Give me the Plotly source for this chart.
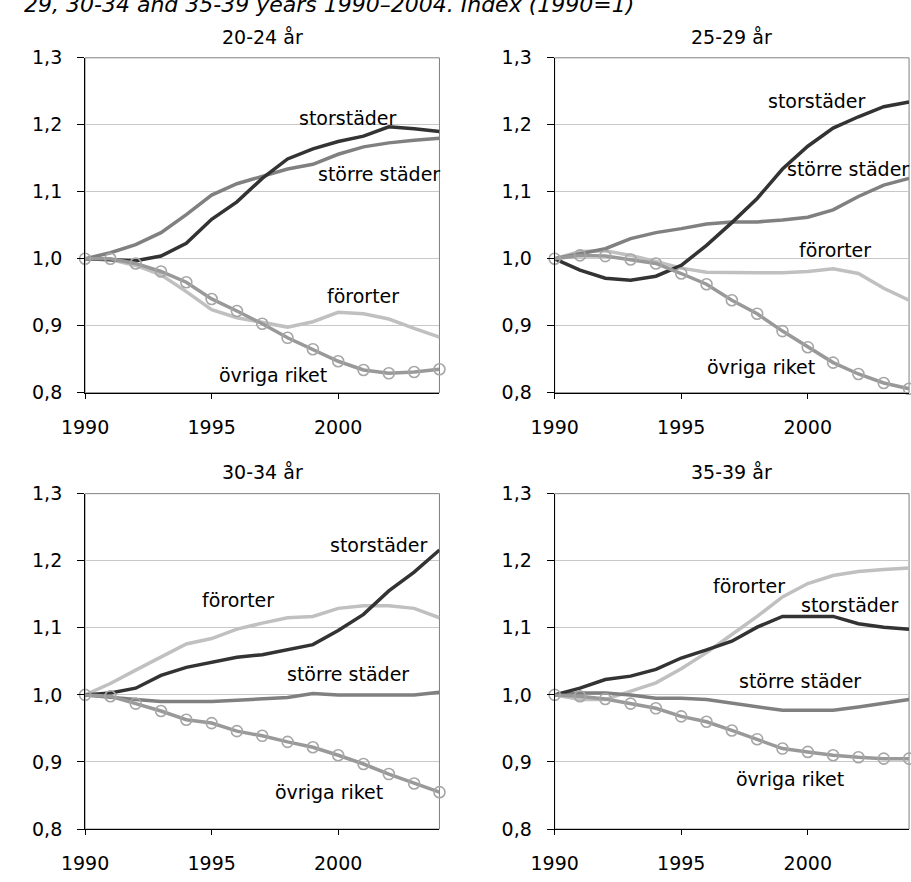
import plotly.graph_objects as go

years = list(range(1990, 2005))
series_names = ["storstäder", "större städer", "förorter", "övriga riket"]
panel_titles = ["20-24 år", "25-29 år", "30-34 år", "35-39 år"]
y_ticks = [0.8, 0.9, 1.0, 1.1, 1.2, 1.3]
x_ticks = [1990, 1995, 2000]

# Panel 20-24 år
stor_2024 = [1.0, 0.998, 0.997, 1.004, 1.023, 1.059, 1.085, 1.12, 1.149, 1.164, 1.175, 1.183, 1.197, 1.194, 1.19]
storre_2024 = [1.0, 1.009, 1.021, 1.039, 1.066, 1.095, 1.112, 1.123, 1.134, 1.141, 1.156, 1.167, 1.173, 1.177, 1.18]
fororter_2024 = [1.0, 0.999, 0.99, 0.976, 0.951, 0.924, 0.912, 0.905, 0.898, 0.906, 0.92, 0.918, 0.91, 0.896, 0.883]
ovriga_2024 = [1.0, 1.0, 0.993, 0.981, 0.965, 0.94, 0.922, 0.903, 0.882, 0.865, 0.847, 0.834, 0.829, 0.831, 0.835]

# Panel 25-29 år
stor_2529 = [1.0, 0.983, 0.971, 0.968, 0.974, 0.99, 1.02, 1.054, 1.09, 1.134, 1.168, 1.195, 1.212, 1.227, 1.234]
storre_2529 = [1.0, 1.007, 1.015, 1.03, 1.039, 1.045, 1.052, 1.055, 1.055, 1.058, 1.062, 1.073, 1.093, 1.11, 1.12]
fororter_2529 = [1.0, 1.011, 1.012, 1.005, 0.996, 0.986, 0.98, 0.979, 0.979, 0.979, 0.981, 0.985, 0.978, 0.956, 0.938]
ovriga_2529 = [1.0, 1.005, 1.004, 0.999, 0.993, 0.978, 0.962, 0.938, 0.918, 0.892, 0.868, 0.845, 0.828, 0.8145, 0.806]

# Panel 30-34 år
stor_3034 = [1.0, 1.003, 1.01, 1.029, 1.041, 1.049, 1.056, 1.06, 1.067, 1.075, 1.096, 1.12, 1.155, 1.183, 1.216]
storre_3034 = [1.0, 0.996, 0.993, 0.99, 0.99, 0.99, 0.992, 0.994, 0.996, 1.002, 1.0, 1.0, 1.0, 1.0, 1.004]
fororter_3034 = [1.0, 1.017, 1.037, 1.056, 1.076, 1.084, 1.098, 1.107, 1.115, 1.117, 1.129, 1.133, 1.133, 1.129, 1.115]
ovriga_3034 = [1.0, 0.998, 0.987, 0.976, 0.963, 0.958, 0.946, 0.939, 0.93, 0.922, 0.91, 0.897, 0.882, 0.868, 0.855]

# Panel 35-39 år
stor_3539 = [1.0, 1.01, 1.023, 1.028, 1.038, 1.055, 1.067, 1.08, 1.101, 1.117, 1.117, 1.117, 1.106, 1.101, 1.098]
storre_3539 = [1.0, 1.003, 1.003, 1.0, 0.995, 0.995, 0.993, 0.988, 0.982, 0.977, 0.977, 0.977, 0.982, 0.987, 0.993]
fororter_3539 = [1.0, 0.993, 0.993, 1.006, 1.018, 1.039, 1.063, 1.09, 1.117, 1.146, 1.166, 1.178, 1.184, 1.187, 1.189]
ovriga_3539 = [1.0, 0.998, 0.994, 0.987, 0.98, 0.968, 0.96, 0.947, 0.934, 0.92, 0.915, 0.91, 0.907, 0.905, 0.905]

panels = [
    {"stor": stor_2024, "storre": storre_2024, "fororter": fororter_2024, "ovriga": ovriga_2024},
    {"stor": stor_2529, "storre": storre_2529, "fororter": fororter_2529, "ovriga": ovriga_2529},
    {"stor": stor_3034, "storre": storre_3034, "fororter": fororter_3034, "ovriga": ovriga_3034},
    {"stor": stor_3539, "storre": storre_3539, "fororter": fororter_3539, "ovriga": ovriga_3539},
]

# label positions (data coords) per panel: (x, y) for stor, storre, fororter, ovriga
label_pos = [
    [(2000.38, 1.210), (2001.63, 1.127), (2000.97, 0.945), (1997.43, 0.8265)],
    [(2000.38, 1.236), (2001.60, 1.1345), (2001.08, 1.013), (1998.14, 0.838)],
    [(2001.63, 1.224), (2000.40, 1.031), (1996.05, 1.1416), (1999.65, 0.855)],
    [(2001.65, 1.134), (1999.69, 1.021), (1997.69, 1.162), (1999.31, 0.874)],
]

W, H = 911, 882
FONT = "DejaVu Sans"
FS = 19

x_domains = [[62.7 / W, 426.7 / W], [545 / W, 909 / W], [62.7 / W, 426.7 / W], [545 / W, 909 / W]]
y_domains = [[1 - 391.5 / H, 1 - 48 / H], [1 - 391.5 / H, 1 - 48 / H],
             [1 - 839 / H, 1 - 495 / H], [1 - 839 / H, 1 - 495 / H]]
title_y_px = [27, 27, 473, 473]

c_stor = "#333333"
c_storre = "#808080"
c_fororter = "#c0c0c0"
c_ovriga = "#999999"

fig = go.Figure()
annotations = []
shapes = []
layout_axes = {}

for i, p in enumerate(panels):
    n = "" if i == 0 else str(i + 1)
    xa, ya = "x" + n, "y" + n
    fig.add_trace(go.Scatter(x=years, y=p["fororter"], mode="lines", xaxis=xa, yaxis=ya,
                             line=dict(color=c_fororter, width=3.5), name=series_names[2], showlegend=False))
    fig.add_trace(go.Scatter(x=years, y=p["storre"], mode="lines", xaxis=xa, yaxis=ya,
                             line=dict(color=c_storre, width=3.5), name=series_names[1], showlegend=False))
    fig.add_trace(go.Scatter(x=years, y=p["stor"], mode="lines", xaxis=xa, yaxis=ya,
                             line=dict(color=c_stor, width=3.5), name=series_names[0], showlegend=False))
    fig.add_trace(go.Scatter(x=years, y=p["ovriga"], mode="lines+markers", xaxis=xa, yaxis=ya,
                             line=dict(color=c_ovriga, width=3.5),
                             marker=dict(symbol="circle-open", size=11, color="#a6a6a6", line=dict(width=1.6)),
                             cliponaxis=False, name=series_names[3], showlegend=False))

    layout_axes["xaxis" + n] = dict(
        domain=x_domains[i], anchor=ya, range=[1990, 2004], tickvals=x_ticks,
        ticktext=[str(t) for t in x_ticks], ticks="outside", ticklen=5, tickcolor="black",
        showline=True, linecolor="black", linewidth=1, showgrid=False, zeroline=False,
        tickfont=dict(family=FONT, size=FS, color="black"), ticklabelstandoff=12,
        fixedrange=True,
    )
    layout_axes["yaxis" + n] = dict(
        domain=y_domains[i], anchor=xa, range=[0.8, 1.3], tickvals=y_ticks,
        tickformat=".1f", ticks="outside", ticklen=7, tickcolor="black",
        showline=True, linecolor="black", linewidth=1, showgrid=True, gridcolor="#c8c8c8",
        gridwidth=1, zeroline=False, tickfont=dict(family=FONT, size=FS, color="black"),
        ticklabelstandoff=11, fixedrange=True,
    )
    # top/right plot-area border
    shapes.append(dict(type="rect", xref=xa + " domain", yref=ya + " domain", x0=0, x1=1, y0=0, y1=1,
                       line=dict(color="#808080", width=1), fillcolor="rgba(0,0,0,0)", layer="below"))
    # panel title
    annotations.append(dict(text=panel_titles[i], xref="paper", yref="paper",
                            x=(x_domains[i][0] + x_domains[i][1]) / 2, y=1 - title_y_px[i] / H,
                            xanchor="center", yanchor="middle", showarrow=False,
                            font=dict(family=FONT, size=FS, color="black")))
    # series labels
    for j, name in enumerate(series_names):
        lx, ly = label_pos[i][j]
        annotations.append(dict(text=name, xref=xa, yref=ya, x=lx, y=ly, xanchor="center",
                                yanchor="middle", showarrow=False,
                                font=dict(family=FONT, size=FS, color="black")))

# partly cropped figure title at the top
annotations.append(dict(text="<i>29, 30-34 and 35-39 years 1990–2004. Index (1990=1)</i>",
                        xref="paper", yref="paper", x=-2 / W, y=1 + 7 / H, xanchor="left",
                        yanchor="middle", showarrow=False,
                        font=dict(family=FONT, size=22, color="black")))

fig.update_layout(
    width=W, height=H, margin=dict(l=0, r=0, t=0, b=0),
    paper_bgcolor="white", plot_bgcolor="white",
    separators=", ", showlegend=False,
    annotations=annotations, shapes=shapes,
    **layout_axes,
)

fig.write_html("out.html")
